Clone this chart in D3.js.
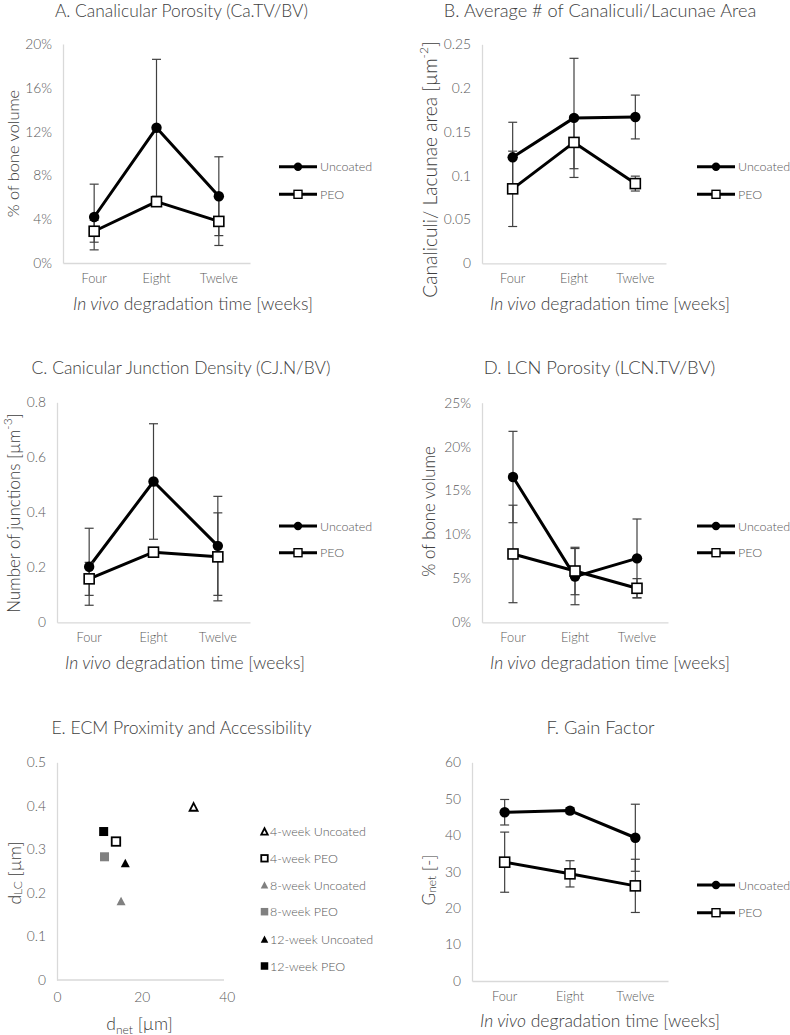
<!DOCTYPE html>
<html><head><meta charset="utf-8">
<script src="https://cdn.jsdelivr.net/npm/d3@7"></script>
<style>
body{margin:0;background:#fff;}
svg text{font-family:Lato,"Open Sans",sans-serif;font-weight:300;}
</style></head>
<body><svg id="c" width="790" height="1035"></svg>
<script>
// ---------- DATA ----------
const categories = ["Four","Eight","Twelve"];

const porosityUncoated = [4.2, 12.35, 6.1];
const porosityUncoatedErr = [3.0, 6.25, 3.6];
const porosityPEO = [2.9, 5.6, 3.8];
const porosityPEOErr = [1.0, 0.3, 2.2];
const porosityTicks = [0,4,8,12,16,20];

const canaliculiUncoated = [0.121, 0.166, 0.167];
const canaliculiUncoatedErr = [0.04, 0.068, 0.025];
const canaliculiPEO = [0.085, 0.138, 0.091];
const canaliculiPEOErr = [0.043, 0.03, 0.0085];
const canaliculiTicks = [0,0.05,0.1,0.15,0.2,0.25];

const junctionUncoated = [0.202, 0.512, 0.278];
const junctionUncoatedErr = [0.14, 0.21, 0.18];
const junctionPEO = [0.158, 0.255, 0.238];
const junctionPEOErr = [0.06, 0.01, 0.16];
const junctionTicks = [0,0.2,0.4,0.6,0.8];

const lcnUncoated = [16.54, 5.2, 7.28];
const lcnUncoatedErr = [5.2, 3.2, 4.48];
const lcnPEO = [7.78, 5.84, 3.87];
const lcnPEOErr = [5.55, 2.7, 1.1];
const lcnTicks = [0,5,10,15,20,25];

const gainUncoated = [46.3, 46.75, 39.3];
const gainUncoatedErr = [3.5, 0.8, 9.2];
const gainPEO = [32.6, 29.4, 26.1];
const gainPEOErr = [8.25, 3.6, 7.3];
const gainTicks = [0,10,20,30,40,50,60];

const ecmGroups = ["4-week Uncoated","4-week PEO","8-week Uncoated","8-week PEO","12-week Uncoated","12-week PEO"];
const ecmDnet = [32.2, 13.9, 15.1, 11.2, 16.1, 11.0];
const ecmDlc = [0.397, 0.318, 0.181, 0.283, 0.268, 0.341];
const ecmXTicks = [0,20,40];
const ecmYTicks = [0,0.1,0.2,0.3,0.4,0.5];

const seriesNames = ["Uncoated","PEO"];

// ---------- DRAW ----------
const svg = d3.select("#c");
const AXIS = "#d9d9d9", TICK = "#595959", TITLE = "#404040", ERR = "#404040";

function styleAxis(g){
  g.select(".domain").attr("stroke", AXIS).attr("stroke-width", 1.3);
  g.selectAll(".tick text").attr("fill", TICK).style("font-size","13.8px");
}

function yTitle(x, y, size, parts){
  const t = svg.append("text").attr("transform", `translate(${x},${y}) rotate(-90)`)
    .attr("text-anchor","middle").attr("dominant-baseline","central")
    .attr("fill", TITLE).style("font-size", size + "px");
  parts.forEach(p => {
    const s = t.append("tspan").text(p.t);
    if (p.sub) s.attr("baseline-shift","-30%").style("font-size","12px");
    if (p.sup) s.attr("baseline-shift","50%").style("font-size","12px");
  });
}
function title(x, y, size, txt){
  svg.append("text").attr("x",x).attr("y",y).attr("text-anchor","middle")
    .attr("fill", TITLE).style("font-size", size + "px").text(txt);
}
function xTitleWeeks(x, y){
  const t = svg.append("text").attr("x",x).attr("y",y).attr("text-anchor","middle")
    .attr("fill", TITLE).style("font-size","17.5px");
  t.append("tspan").style("font-style","italic").text("In vivo");
  t.append("tspan").text(" degradation time [weeks]");
}

function linePanel(cfg){
  const x = d3.scaleBand().domain(categories).range([cfg.left, cfg.right]);
  const y = d3.scaleLinear().domain([cfg.ticks[0], cfg.ticks[cfg.ticks.length-1]]).range([cfg.bottom, cfg.top]);
  const cx = d => x(d) + x.bandwidth()/2;

  const ya = svg.append("g").attr("transform",`translate(${cfg.left},0)`)
    .call(d3.axisLeft(y).tickValues(cfg.ticks).tickSize(0).tickSizeOuter(0).tickPadding(11).tickFormat(cfg.fmt));
  styleAxis(ya);
  const xa = svg.append("g").attr("transform",`translate(0,${cfg.bottom})`)
    .call(d3.axisBottom(x).tickSize(0).tickSizeOuter(0).tickPadding(11));
  styleAxis(xa);
  xa.selectAll(".tick text").style("font-size","12.8px");

  const series = [
    {vals: cfg.u, err: cfg.ue, kind: "circle"},
    {vals: cfg.p, err: cfg.pe, kind: "square"}
  ];
  const line = d3.line().x((d,i)=>cx(categories[i])).y(d=>y(d));
  series.forEach(s => {
    svg.append("path").datum(s.vals).attr("d", line).attr("fill","none")
      .attr("stroke","#000").attr("stroke-width",3).attr("stroke-linejoin","round");
  });
  series.forEach(s => {
    const g = svg.append("g").attr("stroke", ERR).attr("stroke-width",1.2);
    s.vals.forEach((v,i) => {
      const px = cx(categories[i]);
      const lo = y(v - s.err[i]), hi = y(v + s.err[i]);
      g.append("line").attr("x1",px).attr("x2",px).attr("y1",lo).attr("y2",hi);
      g.append("line").attr("x1",px-4.5).attr("x2",px+4.5).attr("y1",lo).attr("y2",lo);
      g.append("line").attr("x1",px-4.5).attr("x2",px+4.5).attr("y1",hi).attr("y2",hi);
    });
  });
  series.forEach(s => {
    s.vals.forEach((v,i) => {
      const px = cx(categories[i]), py = y(v);
      if (s.kind === "circle")
        svg.append("circle").attr("cx",px).attr("cy",py).attr("r",5.2).attr("fill","#000");
      else
        svg.append("rect").attr("x",px-5).attr("y",py-5).attr("width",10).attr("height",10)
          .attr("fill","#fff").attr("stroke","#000").attr("stroke-width",1.6);
    });
  });
  // legend
  series.forEach((s,k) => {
    const ly = cfg.legY[k], lx = cfg.legX;
    svg.append("line").attr("x1",lx).attr("x2",lx+38).attr("y1",ly).attr("y2",ly)
      .attr("stroke","#000").attr("stroke-width",3);
    if (s.kind === "circle")
      svg.append("circle").attr("cx",lx+19).attr("cy",ly).attr("r",4.2).attr("fill","#000");
    else
      svg.append("rect").attr("x",lx+15).attr("y",ly-4).attr("width",8).attr("height",8)
        .attr("fill","#fff").attr("stroke","#000").attr("stroke-width",1.4);
    svg.append("text").attr("x",lx+41).attr("y",ly).attr("dominant-baseline","central")
      .attr("fill",TICK).style("font-size","12.5px").text(seriesNames[k]);
  });
}

const pct = d => d + "%";
const num = d => d3.format("~g")(d);

// A
linePanel({left:63,right:250,top:44,bottom:263,ticks:porosityTicks,fmt:pct,
  u:porosityUncoated,ue:porosityUncoatedErr,p:porosityPEO,pe:porosityPEOErr,legX:279,legY:[166.7,194.3]});
title(181.5,17,17.4,"A. Canalicular Porosity (Ca.TV/BV)");
yTitle(12,153.5,16.4,[{t:"% of bone volume"}]);
xTitleWeeks(193,309.5);

// B
linePanel({left:482,right:666,top:44.3,bottom:263.3,ticks:canaliculiTicks,fmt:num,
  u:canaliculiUncoated,ue:canaliculiUncoatedErr,p:canaliculiPEO,pe:canaliculiPEOErr,legX:697,legY:[166.7,194.3]});
title(600,17,18.2,"B. Average # of Canaliculi/Lacunae Area");
yTitle(429,169.5,19.2,[{t:"Canaliculi/ Lacunae area [µm"},{t:"-2",sup:true},{t:"]"}]);
xTitleWeeks(610,309.5);

// C
linePanel({left:57,right:250,top:402.3,bottom:622.3,ticks:junctionTicks,fmt:num,
  u:junctionUncoated,ue:junctionUncoatedErr,p:junctionPEO,pe:junctionPEOErr,legX:279,legY:[526,552.7]});
title(181,374,17.4,"C. Canicular Junction Density (CJ.N/BV)");
yTitle(13,513,16.9,[{t:"Number of junctions [µm"},{t:"-3",sup:true},{t:"]"}]);
xTitleWeeks(185,669);

// D
linePanel({left:482,right:668,top:402.7,bottom:622.3,ticks:lcnTicks,fmt:pct,
  u:lcnUncoated,ue:lcnUncoatedErr,p:lcnPEO,pe:lcnPEOErr,legX:697,legY:[526,552.7]});
title(599.5,374,18.4,"D. LCN Porosity (LCN.TV/BV)");
yTitle(428,511.5,16.8,[{t:"% of bone volume"}]);
xTitleWeeks(610,669);

// F
linePanel({left:472,right:668,top:762.3,bottom:981,ticks:gainTicks,fmt:num,
  u:gainUncoated,ue:gainUncoatedErr,p:gainPEO,pe:gainPEOErr,legX:697,legY:[885,912.7]});
title(600.5,734,18.3,"F. Gain Factor");
yTitle(428,880,17.2,[{t:"G"},{t:"net",sub:true},{t:" [-]"}]);
xTitleWeeks(600,1026.5);

// E scatter
(function(){
  const x = d3.scaleLinear().domain([0,40]).range([57,226.7]);
  const y = d3.scaleLinear().domain([0,0.5]).range([980,762.3]);
  const ya = svg.append("g").attr("transform","translate(57,0)")
    .call(d3.axisLeft(y).tickValues(ecmYTicks).tickSize(0).tickSizeOuter(0).tickPadding(11).tickFormat(num));
  styleAxis(ya);
  const xa = svg.append("g").attr("transform","translate(0,980)")
    .call(d3.axisBottom(x).tickValues(ecmXTicks).tickSize(0).tickSizeOuter(0).tickPadding(12));
  styleAxis(xa);
  xa.select(".domain").attr("d","M57,0H224");
  const styles = [
    {shape:"tri", fill:"#fff", stroke:"#000"},
    {shape:"sq", fill:"#fff", stroke:"#000"},
    {shape:"tri", fill:"#808080", stroke:"none"},
    {shape:"sq", fill:"#808080", stroke:"none"},
    {shape:"tri", fill:"#000", stroke:"none"},
    {shape:"sq", fill:"#000", stroke:"none"}
  ];
  function mark(st, px, py, s){
    if (st.shape === "tri") {
      const h = s*0.9;
      svg.append("path").attr("d",`M${px},${py-h/2-0.5}L${px+s/2},${py+h/2}L${px-s/2},${py+h/2}Z`)
        .attr("fill",st.fill).attr("stroke",st.stroke).attr("stroke-width",st.stroke==="none"?0:1.8)
        .attr("stroke-linejoin","miter");
    } else {
      svg.append("rect").attr("x",px-s/2).attr("y",py-s/2).attr("width",s).attr("height",s)
        .attr("fill",st.fill).attr("stroke",st.stroke).attr("stroke-width",st.stroke==="none"?0:1.8);
    }
  }
  ecmGroups.forEach((g,i) => {
    const st = styles[i];
    const s = st.stroke==="none" ? 9 : (st.shape==="tri"?8:8.5);
    mark(st, x(ecmDnet[i]), y(ecmDlc[i]), s);
    const ly = [831.7,858.3,885,911.7,939.3,966][i];
    mark(st, 264.5, ly, st.stroke==="none"?7.5:6.5);
    svg.append("text").attr("x",270).attr("y",ly).attr("dominant-baseline","central")
      .attr("fill",TICK).style("font-size","12.5px").text(g);
  });
  title(181.5,734,17.6,"E. ECM Proximity and Accessibility");
  yTitle(14,873,17.5,[{t:"d"},{t:"LC",sub:true},{t:" [µm]"}]);
  const t = svg.append("text").attr("x",139.5).attr("y",1029.5).attr("text-anchor","middle")
    .attr("fill",TITLE).style("font-size","17.5px");
  t.append("tspan").text("d");
  t.append("tspan").attr("baseline-shift","-30%").style("font-size","12px").text("net");
  t.append("tspan").text(" [µm]");
})();
</script></body></html>
